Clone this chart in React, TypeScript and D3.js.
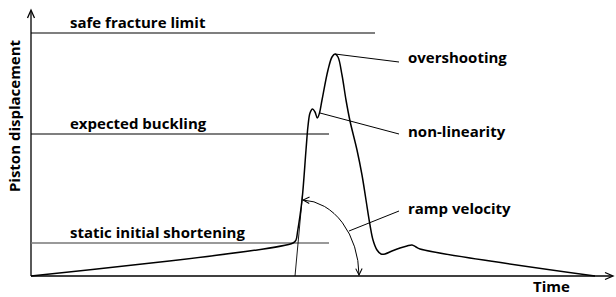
import React from "react";
import * as d3 from "d3";

// Data (time, displacement) in arbitrary units
const curveT = [0, 262, 265, 266.5, 271, 275, 277, 279, 281.5, 284, 286.3, 288.5, 291, 297, 301, 304, 307, 311, 315, 319, 326, 331, 335, 339, 342, 346, 350, 354, 361, 369, 376, 381, 385, 389, 564];
const curveD = [0, 33, 36, 44, 76, 126, 150, 163, 167, 164, 158, 163, 176, 206, 219, 222, 219, 201, 176, 155, 126, 101, 76, 51, 36, 26, 22, 22, 25, 28, 30, 31, 29, 27, 0];

const levelNames = ["safe fracture limit", "expected buckling", "static initial shortening"];
const levelValues = [243, 142, 33];
const levelEnds = [344, 298, 298];

const tangentT = [264, 271.5];
const tangentD = [0, 81];

const annNames = ["overshooting", "non-linearity", "ramp velocity"];
const annFromT = [304, 289, 318];
const annFromD = [222, 163, 45];
const annToT = [368, 368, 368];
const annToD = [214, 142, 65];
const annLabelD = [213, 139, 62];

const W = 616;
const H = 297;

export default function App() {
  const x = d3.scaleLinear().domain([0, 582]).range([31, 613]);
  const y = d3.scaleLinear().domain([0, 266]).range([276, 10]);

  const pts: [number, number][] = curveT.map((t, i) => [t, curveD[i]]);
  const line = d3
    .line<[number, number]>()
    .x((d) => x(d[0]))
    .y((d) => y(d[1]))
    .curve(d3.curveCatmullRom.alpha(0.5));

  const font = "'Open Sans', 'DejaVu Sans', sans-serif";
  const fs = 15;

  // ramp velocity arc
  const a0x = x(272), a0y = y(76);
  const a1x = x(328), a1y = y(1);

  return (
    <svg width={W} height={H} style={{ position: "absolute", left: 0, top: 0 }}>
      <defs>
        <marker id="ah" viewBox="0 0 10 10" refX="9" refY="5" markerWidth="8" markerHeight="8" orient="auto-start-reverse" markerUnits="userSpaceOnUse">
          <path d="M1,1 L9,5 L1,9" fill="none" stroke="#000" strokeWidth="1.3" />
        </marker>
      </defs>
      <rect width={W} height={H} fill="#fff" />
      {/* axes */}
      <line x1={x(0)} y1={y(0)} x2={x(0)} y2={y(264)} stroke="#000" strokeWidth={1.3} />
      <path d={`M${x(0) - 3.5},${y(258)} L${x(0)},${y(266)} L${x(0) + 3.5},${y(258)}`} fill="none" stroke="#000" strokeWidth={1.3} />
      <line x1={x(0)} y1={y(0)} x2={x(581)} y2={y(0)} stroke="#000" strokeWidth={1.3} />
      <path d={`M${x(574)},${y(0) - 3.5} L${x(582)},${y(0)} L${x(574)},${y(0) + 3.5}`} fill="none" stroke="#000" strokeWidth={1.3} />

      {/* level lines */}
      {levelNames.map((n, i) => (
        <g key={n}>
          <line x1={x(0)} x2={x(levelEnds[i])} y1={y(levelValues[i])} y2={y(levelValues[i])} stroke={i === 2 ? "#777" : "#000"} strokeWidth={i === 2 ? 1.4 : 1.1} />
          <text x={x(39)} y={y(levelValues[i]) - 5} fontFamily={font} fontWeight={700} fontSize={fs} fill="#000">{n}</text>
        </g>
      ))}

      {/* tangent */}
      <line x1={x(tangentT[0])} y1={y(tangentD[0])} x2={x(tangentT[1])} y2={y(tangentD[1])} stroke="#000" strokeWidth={0.9} />

      {/* curve */}
      <path d={line(pts) || ""} fill="none" stroke="#000" strokeWidth={1.5} />

      {/* arc */}
      <path d={`M${a0x},${a0y} A58,76 0 0 1 ${a1x},${a1y}`} fill="none" stroke="#000" strokeWidth={1} markerStart="url(#ah)" markerEnd="url(#ah)" />

      {/* annotations */}
      {annNames.map((n, i) => (
        <g key={n}>
          <line x1={x(annFromT[i])} y1={y(annFromD[i])} x2={x(annToT[i])} y2={y(annToD[i])} stroke="#000" strokeWidth={1} />
          <text x={x(377)} y={y(annLabelD[i])} fontFamily={font} fontWeight={700} fontSize={fs} fill="#000">{n}</text>
        </g>
      ))}

      <text x={x(502)} y={292} fontFamily={font} fontWeight={700} fontSize={fs} fill="#000">Time</text>
      <text transform={`translate(20,116) rotate(-90)`} textAnchor="middle" fontFamily={font} fontWeight={700} fontSize={fs} fill="#000">Piston displacement</text>
    </svg>
  );
}
